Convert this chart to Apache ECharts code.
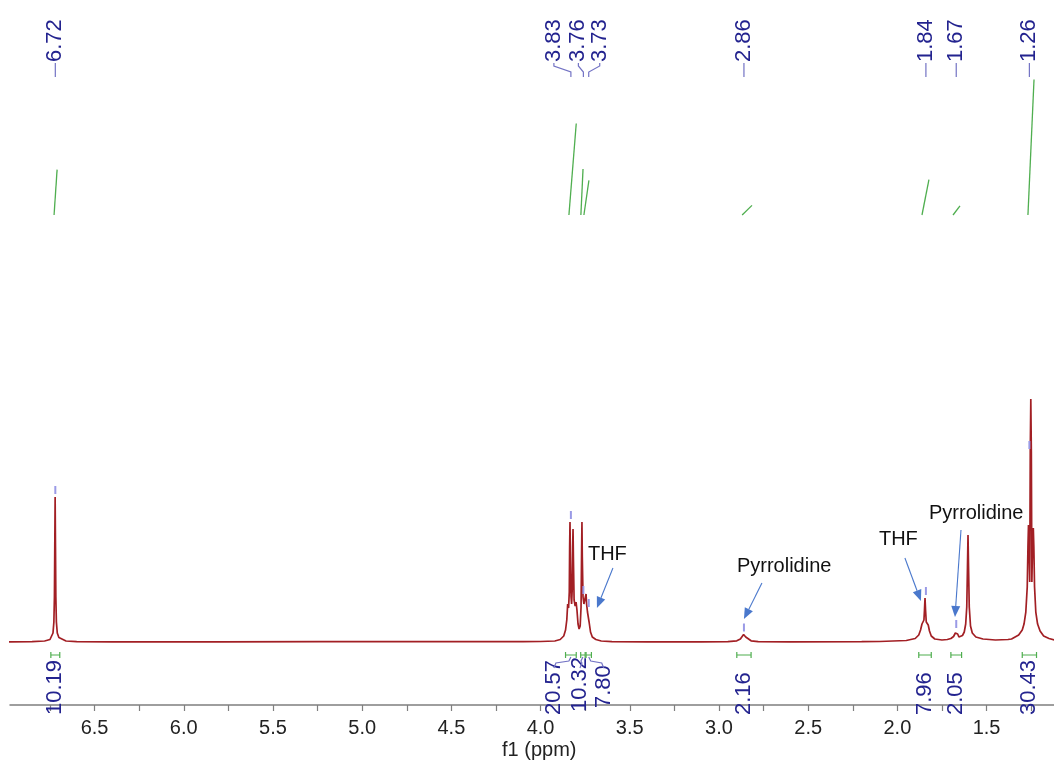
<!DOCTYPE html>
<html><head><meta charset="utf-8">
<script src="https://cdn.jsdelivr.net/npm/echarts@6/dist/echarts.min.js"></script>
<style>html,body{margin:0;padding:0;background:#fff}#c{width:1054px;height:760px}</style>
</head><body><div id="c"></div>
<script>
// ---------- data ----------
// spectrum: [ppm, intensity]
const spectrum = [
 [7.00,0],[6.85,0.3],[6.78,1],[6.75,2.5],[6.74,4.5],[6.733,9],[6.728,20],[6.725,45],[6.723,95],[6.721,145],[6.719,95],[6.717,45],[6.714,20],[6.709,9],[6.70,4.5],[6.69,2.5],[6.66,1],[6.60,0.4],[6.40,0.2],[5.80,0.2],
 [5.24,0.3],[5.232,1.5],[5.225,0.3],[4.60,0.3],[4.10,0.4],
 [4.00,0.5],[3.92,1],[3.89,2.5],[3.87,6],[3.86,12],[3.853,22],[3.848,38],[3.846,40],[3.843,34],[3.839,50],[3.837,95],[3.835,120],[3.833,90],[3.829,45],[3.826,38],[3.822,55],[3.820,95],[3.818,113],[3.816,85],[3.812,42],[3.806,36],[3.801,40],[3.799,40],[3.796,32],[3.790,18],[3.784,13],[3.778,16],[3.773,35],[3.770,90],[3.768,120],[3.766,85],[3.762,45],[3.757,38],[3.750,44],[3.745,48],[3.742,38],[3.737,30],[3.734,32],[3.732,30],[3.728,20],[3.720,10],[3.710,5],[3.690,2.5],[3.660,1],[3.600,0.4],[3.40,0.2],
 [3.10,0.2],[2.95,0.4],[2.90,1.2],[2.88,3],[2.87,5],[2.862,7.5],[2.858,7.5],[2.85,5],[2.84,3],[2.82,1.2],[2.78,0.4],[2.60,0.2],[2.20,0.3],
 [2.10,0.5],[1.95,1.5],[1.90,3.5],[1.88,7],[1.87,12],[1.862,18],[1.856,18],[1.851,22],[1.848,32],[1.845,44],[1.842,32],[1.838,20],[1.833,18],[1.827,17],[1.82,11],[1.81,6],[1.79,3],[1.75,2],[1.72,2.5],
 [1.70,3.5],[1.685,5.5],[1.675,9],[1.668,11],[1.662,8],[1.655,5],[1.645,5],
 [1.635,6.5],[1.625,10],[1.617,18],[1.611,35],[1.607,75],[1.604,107],[1.601,75],[1.597,35],[1.59,16],[1.58,9],[1.56,5],[1.52,3],[1.45,2],[1.38,2.5],
 [1.36,3],[1.32,7],[1.30,12],[1.29,18],[1.28,30],[1.272,55],[1.268,95],[1.265,117],[1.262,100],[1.258,60],[1.255,190],[1.252,243],[1.249,190],[1.246,60],[1.242,100],[1.238,114],[1.235,95],[1.231,55],[1.224,30],[1.214,18],[1.20,11],[1.18,6],[1.15,3.5],[1.12,2]
];
const peakLabels = [6.72, 3.83, 3.76, 3.73, 2.86, 1.84, 1.67, 1.26];
const integralValues = [10.19, 20.57, 10.32, 7.80, 2.16, 7.96, 2.05, 30.43];
const integralFrom = [6.745, 3.86, 3.775, 3.745, 2.90, 1.88, 1.70, 1.30];
const integralTo   = [6.695, 3.80, 3.750, 3.715, 2.82, 1.81, 1.64, 1.22];
const integralCurveFrom = [6.727, 3.841, 3.774, 3.757, 2.870, 1.862, 1.688, 1.268];
const integralCurveTo   = [6.710, 3.800, 3.762, 3.729, 2.815, 1.823, 1.649, 1.234];
const annotationTexts = ['THF', 'Pyrrolidine', 'THF', 'Pyrrolidine'];
const annotationTargetPpm = [3.684, 2.86, 1.868, 1.677];
const annotationTargetInt = [34, 23, 41, 25];
const axisTickValues = [1.25,1.5,1.75,2.0,2.25,2.5,2.75,3.0,3.25,3.5,3.75,4.0,4.25,4.5,4.75,5.0,5.25,5.5,5.75,6.0,6.25,6.5,6.75];
const axisLabelValues = [1.5,2.0,2.5,3.0,3.5,4.0,4.5,5.0,5.5,6.0,6.5];

// ---------- layout / style (not data) ----------
const FONT = '"Liberation Sans", Arial, sans-serif';
const NAVY = '#23238f';
const LAV = '#7373c4';
const GREEN = '#4fae4f';
const RED = '#a21f24';
const ARROW = '#4a78cc';
const INT_BASE = 427, INT_SCALE = 4.45;
const peakLabelDx = [0, -17, -5, 11, 0, 0, 0, 0];
const intLabelDx = [0, -17, -3, 15, 0, 0, 0, 0];
const intLabelDy = [0, 0, -3, -7, 0, 0, 0, 0];
const annTail = [[16,-40],[18,-36],[-16,-43],[6,-87]];
const annText = [[-9,-54],[-7,-53],[-42,-62],[-26,-104]];

function localMax(ppm) {
  let m = 0;
  spectrum.forEach(p => { if (Math.abs(p[0] - ppm) <= 0.006 && p[1] > m) m = p[1]; });
  return m;
}

const series = [];
series.push({
  type: 'line', data: spectrum, showSymbol: false, symbol: 'none', z: 3,
  lineStyle: { color: RED, width: 1.7 }, silent: true, sampling: null
});
integralValues.forEach((v, k) => {
  series.push({
    type: 'line', showSymbol: false, symbol: 'none', silent: true, z: 2,
    lineStyle: { color: GREEN, width: 1.3 },
    data: [[integralCurveFrom[k], INT_BASE], [integralCurveTo[k], INT_BASE + v * INT_SCALE]]
  });
});
// peak labels at top + markers over peaks
series.push({
  type: 'custom', coordinateSystem: 'cartesian2d', silent: true, z: 5,
  data: peakLabels.map((p, i) => [p, i]),
  renderItem(params, api) {
    const ppm = api.value(0), i = api.value(1);
    const px = api.coord([ppm, 0])[0];
    const top = api.coord([ppm, localMax(ppm)])[1];
    const lx = px + peakLabelDx[i];
    return { type: 'group', children: [
      { type: 'text', x: lx, y: 62, rotation: Math.PI / 2,
        style: { text: peakLabels[i].toFixed(2), font: '22px ' + FONT, fill: NAVY, align: 'left', verticalAlign: 'middle' } },
      { type: 'polyline', shape: { points: [[lx, 63], [lx, 66], [px, 72], [px, 77]] },
        style: { stroke: LAV, lineWidth: 1.2, fill: null } },
      { type: 'line', shape: { x1: px, y1: top - 11, x2: px, y2: top - 3 },
        style: { stroke: '#9a9ae6', lineWidth: 2 } }
    ]};
  }
});
// integral marks and values below spectrum
series.push({
  type: 'custom', coordinateSystem: 'cartesian2d', silent: true, z: 5,
  data: integralValues.map((v, i) => [(integralFrom[i] + integralTo[i]) / 2, i]),
  renderItem(params, api) {
    const i = api.value(1);
    const cx = api.coord([api.value(0), 0])[0];
    const x1 = api.coord([integralFrom[i], 0])[0], x2 = api.coord([integralTo[i], 0])[0];
    const lx = cx + intLabelDx[i];
    const children = [
      { type: 'polyline', shape: { points: [[x1, 652], [x1, 658], [x1, 655], [x2, 655], [x2, 652], [x2, 658]] },
        style: { stroke: GREEN, lineWidth: 1.2, fill: null } },
      { type: 'text', x: lx, y: 715 + intLabelDy[i], rotation: Math.PI / 2,
        style: { text: integralValues[i].toFixed(2), font: '22px ' + FONT, fill: NAVY, align: 'left', verticalAlign: 'middle' } }
    ];
    if (intLabelDx[i] !== 0) {
      const s = Math.sign(intLabelDx[i]);
      children.push({ type: 'polyline', shape: { points: [[lx, 668], [lx - s * 2, 663], [cx + s * 2, 661], [cx, 657]] },
        style: { stroke: LAV, lineWidth: 1.2, fill: null } });
    }
    return { type: 'group', children };
  }
});
// annotations with arrows
series.push({
  type: 'custom', coordinateSystem: 'cartesian2d', silent: true, z: 6,
  data: annotationTargetPpm.map((p, i) => [p, annotationTargetInt[i], i]),
  renderItem(params, api) {
    const i = api.value(2);
    const tip = api.coord([api.value(0), api.value(1)]);
    const tail = [tip[0] + annTail[i][0], tip[1] + annTail[i][1]];
    const dx = tip[0] - tail[0], dy = tip[1] - tail[1];
    const L = Math.sqrt(dx * dx + dy * dy), ux = dx / L, uy = dy / L;
    const hl = 11, hw = 4.5;
    const bx = tip[0] - ux * hl, by = tip[1] - uy * hl;
    return { type: 'group', children: [
      { type: 'line', shape: { x1: tail[0], y1: tail[1], x2: bx, y2: by }, style: { stroke: ARROW, lineWidth: 1.1 } },
      { type: 'polygon', shape: { points: [[tip[0], tip[1]], [bx - uy * hw, by + ux * hw], [bx + uy * hw, by - ux * hw]] },
        style: { fill: ARROW } },
      { type: 'text', x: tip[0] + annText[i][0], y: tip[1] + annText[i][1],
        style: { text: annotationTexts[i], font: '20px ' + FONT, fill: '#111', align: 'left', verticalAlign: 'middle' } }
    ]};
  }
});

const chart = echarts.init(document.getElementById('c'), null, { renderer: 'canvas' });
chart.setOption({
  animation: false,
  backgroundColor: '#fff',
  grid: { left: 10, right: 0, top: 0, bottom: 55, containLabel: false },
  xAxis: {
    type: 'value', inverse: true, min: 1.122, max: 6.974,
    axisLine: { show: true, onZero: false, lineStyle: { color: '#7f7f7f', width: 1.5 } },
    axisTick: { show: true, length: 6, customValues: axisTickValues, lineStyle: { color: '#7f7f7f', width: 1.2 } },
    axisLabel: { customValues: axisLabelValues, fontSize: 20, color: '#222', fontFamily: FONT, margin: 13,
      formatter: v => Number(v).toFixed(1) },
    splitLine: { show: false }
  },
  yAxis: { type: 'value', min: -63, max: 642, show: false },
  graphic: [{ type: 'text', left: 540 - 38, top: 740,
    style: { text: 'f1 (ppm)', font: '20px ' + FONT, fill: '#222' } }],
  series
});
</script></body></html>
